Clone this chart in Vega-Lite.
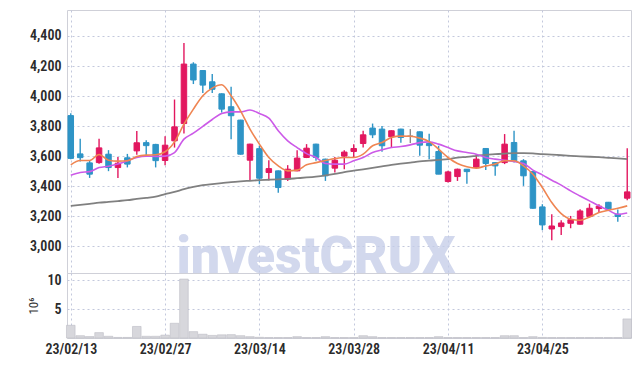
{
  "$schema": "https://vega.github.io/schema/vega-lite/v6.json",
  "background": "white",
  "padding": {"left": 27, "top": 9, "right": 4, "bottom": 2},
  "spacing": 0,
  "bounds": "flush",
  "config": {
    "view": {"stroke": "#cfd0d8", "strokeWidth": 1},
    "axis": {
      "labelFont": "Roboto Condensed, DejaVu Sans Condensed, Liberation Sans Narrow, Roboto, sans-serif",
      "labelFontSize": 14,
      "labelFontWeight": 600,
      "labelColor": "#2b2b2b",
      "gridColor": "#c3c8dc",
      "gridDash": [2, 3],
      "gridWidth": 1,
      "domain": false,
      "ticks": false,
      "labelOverlap": false
    }
  },
  "datasets": {
    "k": [
      {"d": "23/02/13", "o": 3870, "h": 3885, "l": 3580, "c": 3585, "v": 2.2, "m5": 3542, "m20": 3473, "m60": 3269},
      {"d": "23/02/14", "o": 3615, "h": 3715, "l": 3565, "c": 3590, "v": 0.4, "m5": 3571, "m20": 3491, "m60": 3275},
      {"d": "23/02/15", "o": 3555, "h": 3570, "l": 3455, "c": 3480, "v": 0.25, "m5": 3571, "m20": 3497, "m60": 3282},
      {"d": "23/02/16", "o": 3557, "h": 3715, "l": 3550, "c": 3655, "v": 0.93, "m5": 3611, "m20": 3524, "m60": 3290},
      {"d": "23/02/17", "o": 3613, "h": 3640, "l": 3500, "c": 3524, "v": 0.3, "m5": 3573, "m20": 3533, "m60": 3295},
      {"d": "23/02/20", "o": 3524, "h": 3595, "l": 3455, "c": 3553, "v": 0.1, "m5": 3567, "m20": 3547, "m60": 3301},
      {"d": "23/02/21", "o": 3589, "h": 3615, "l": 3525, "c": 3547, "v": 0.1, "m5": 3569, "m20": 3569, "m60": 3307},
      {"d": "23/02/22", "o": 3635, "h": 3767, "l": 3610, "c": 3689, "v": 2.0, "m5": 3597, "m20": 3591, "m60": 3315},
      {"d": "23/02/23", "o": 3690, "h": 3705, "l": 3600, "c": 3670, "v": 0.3, "m5": 3607, "m20": 3600, "m60": 3322},
      {"d": "23/02/24", "o": 3678, "h": 3682, "l": 3525, "c": 3570, "v": 0.3, "m5": 3609, "m20": 3598, "m60": 3330},
      {"d": "23/02/27", "o": 3571, "h": 3733, "l": 3540, "c": 3673, "v": 0.5, "m5": 3629, "m20": 3600, "m60": 3347},
      {"d": "23/02/28", "o": 3702, "h": 3977, "l": 3657, "c": 3795, "v": 2.55, "m5": 3695, "m20": 3624, "m60": 3362},
      {"d": "23/03/02", "o": 3817, "h": 4353, "l": 3750, "c": 4213, "v": 10.2, "m5": 3813, "m20": 3713, "m60": 3380},
      {"d": "23/03/03", "o": 4213, "h": 4225, "l": 4080, "c": 4107, "v": 1.1, "m5": 3913, "m20": 3753, "m60": 3395},
      {"d": "23/03/06", "o": 4170, "h": 4172, "l": 4020, "c": 4073, "v": 0.65, "m5": 4002, "m20": 3798, "m60": 3407},
      {"d": "23/03/07", "o": 4095, "h": 4147, "l": 4020, "c": 4045, "v": 0.45, "m5": 4053, "m20": 3844, "m60": 3414},
      {"d": "23/03/08", "o": 4015, "h": 4018, "l": 3890, "c": 3913, "v": 0.55, "m5": 4075, "m20": 3884, "m60": 3420},
      {"d": "23/03/09", "o": 3929, "h": 4062, "l": 3713, "c": 3869, "v": 0.58, "m5": 4002, "m20": 3895, "m60": 3427},
      {"d": "23/03/10", "o": 3840, "h": 3842, "l": 3610, "c": 3613, "v": 0.4, "m5": 3902, "m20": 3895, "m60": 3432},
      {"d": "23/03/13", "o": 3573, "h": 3682, "l": 3435, "c": 3680, "v": 0.23, "m5": 3780, "m20": 3907, "m60": 3436},
      {"d": "23/03/14", "o": 3650, "h": 3670, "l": 3413, "c": 3453, "v": 0.12, "m5": 3680, "m20": 3884, "m60": 3440},
      {"d": "23/03/15", "o": 3491, "h": 3573, "l": 3440, "c": 3517, "v": 0.08, "m5": 3591, "m20": 3853, "m60": 3443},
      {"d": "23/03/16", "o": 3502, "h": 3505, "l": 3357, "c": 3391, "v": 0.08, "m5": 3535, "m20": 3769, "m60": 3446},
      {"d": "23/03/17", "o": 3447, "h": 3540, "l": 3435, "c": 3513, "v": 0.08, "m5": 3502, "m20": 3702, "m60": 3448},
      {"d": "23/03/20", "o": 3502, "h": 3640, "l": 3500, "c": 3587, "v": 0.23, "m5": 3507, "m20": 3657, "m60": 3453},
      {"d": "23/03/21", "o": 3591, "h": 3680, "l": 3587, "c": 3653, "v": 0.08, "m5": 3542, "m20": 3617, "m60": 3458},
      {"d": "23/03/22", "o": 3680, "h": 3682, "l": 3569, "c": 3591, "v": 0.08, "m5": 3557, "m20": 3591, "m60": 3464},
      {"d": "23/03/23", "o": 3580, "h": 3583, "l": 3435, "c": 3469, "v": 0.23, "m5": 3571, "m20": 3551, "m60": 3472},
      {"d": "23/03/24", "o": 3520, "h": 3595, "l": 3491, "c": 3573, "v": 0.08, "m5": 3584, "m20": 3547, "m60": 3482},
      {"d": "23/03/27", "o": 3600, "h": 3640, "l": 3513, "c": 3627, "v": 0.08, "m5": 3591, "m20": 3547, "m60": 3494},
      {"d": "23/03/28", "o": 3631, "h": 3680, "l": 3591, "c": 3651, "v": 0.08, "m5": 3591, "m20": 3569, "m60": 3503},
      {"d": "23/03/29", "o": 3684, "h": 3769, "l": 3657, "c": 3742, "v": 0.4, "m5": 3613, "m20": 3591, "m60": 3512},
      {"d": "23/03/30", "o": 3787, "h": 3817, "l": 3720, "c": 3742, "v": 0.23, "m5": 3669, "m20": 3624, "m60": 3522},
      {"d": "23/03/31", "o": 3780, "h": 3800, "l": 3630, "c": 3669, "v": 0.08, "m5": 3691, "m20": 3642, "m60": 3532},
      {"d": "23/04/03", "o": 3729, "h": 3772, "l": 3660, "c": 3769, "v": 0.08, "m5": 3724, "m20": 3657, "m60": 3542},
      {"d": "23/04/04", "o": 3780, "h": 3782, "l": 3690, "c": 3724, "v": 0.08, "m5": 3733, "m20": 3664, "m60": 3550},
      {"d": "23/04/05", "o": 3733, "h": 3780, "l": 3687, "c": 3733, "v": 0.08, "m5": 3732, "m20": 3675, "m60": 3557},
      {"d": "23/04/06", "o": 3762, "h": 3764, "l": 3602, "c": 3673, "v": 0.08, "m5": 3720, "m20": 3690, "m60": 3565},
      {"d": "23/04/07", "o": 3684, "h": 3749, "l": 3580, "c": 3670, "v": 0.08, "m5": 3697, "m20": 3695, "m60": 3570},
      {"d": "23/04/10", "o": 3631, "h": 3669, "l": 3480, "c": 3480, "v": 0.23, "m5": 3647, "m20": 3680, "m60": 3575},
      {"d": "23/04/11", "o": 3431, "h": 3502, "l": 3424, "c": 3495, "v": 0.08, "m5": 3591, "m20": 3657, "m60": 3580},
      {"d": "23/04/12", "o": 3464, "h": 3517, "l": 3435, "c": 3513, "v": 0.08, "m5": 3551, "m20": 3635, "m60": 3590},
      {"d": "23/04/13", "o": 3513, "h": 3515, "l": 3417, "c": 3497, "v": 0.08, "m5": 3529, "m20": 3624, "m60": 3595},
      {"d": "23/04/14", "o": 3524, "h": 3613, "l": 3520, "c": 3580, "v": 0.08, "m5": 3520, "m20": 3613, "m60": 3602},
      {"d": "23/04/17", "o": 3651, "h": 3655, "l": 3507, "c": 3551, "v": 0.08, "m5": 3535, "m20": 3591, "m60": 3609},
      {"d": "23/04/18", "o": 3557, "h": 3557, "l": 3469, "c": 3535, "v": 0.08, "m5": 3547, "m20": 3580, "m60": 3613},
      {"d": "23/04/19", "o": 3557, "h": 3747, "l": 3547, "c": 3680, "v": 0.4, "m5": 3569, "m20": 3573, "m60": 3617},
      {"d": "23/04/20", "o": 3691, "h": 3769, "l": 3557, "c": 3569, "v": 0.4, "m5": 3569, "m20": 3564, "m60": 3620},
      {"d": "23/04/21", "o": 3569, "h": 3580, "l": 3402, "c": 3469, "v": 0.08, "m5": 3535, "m20": 3551, "m60": 3620},
      {"d": "23/04/24", "o": 3497, "h": 3500, "l": 3250, "c": 3253, "v": 0.23, "m5": 3480, "m20": 3507, "m60": 3618},
      {"d": "23/04/25", "o": 3262, "h": 3280, "l": 3107, "c": 3142, "v": 0.1, "m5": 3391, "m20": 3475, "m60": 3613},
      {"d": "23/04/26", "o": 3115, "h": 3213, "l": 3040, "c": 3135, "v": 0.08, "m5": 3291, "m20": 3440, "m60": 3610},
      {"d": "23/04/27", "o": 3131, "h": 3173, "l": 3075, "c": 3155, "v": 0.08, "m5": 3217, "m20": 3407, "m60": 3606},
      {"d": "23/04/28", "o": 3153, "h": 3202, "l": 3120, "c": 3177, "v": 0.08, "m5": 3180, "m20": 3369, "m60": 3602},
      {"d": "23/05/02", "o": 3147, "h": 3247, "l": 3145, "c": 3235, "v": 0.08, "m5": 3173, "m20": 3335, "m60": 3599},
      {"d": "23/05/03", "o": 3198, "h": 3284, "l": 3191, "c": 3253, "v": 0.08, "m5": 3195, "m20": 3302, "m60": 3596},
      {"d": "23/05/04", "o": 3251, "h": 3280, "l": 3224, "c": 3267, "v": 0.08, "m5": 3224, "m20": 3269, "m60": 3593},
      {"d": "23/05/08", "o": 3293, "h": 3295, "l": 3247, "c": 3249, "v": 0.08, "m5": 3240, "m20": 3240, "m60": 3589},
      {"d": "23/05/09", "o": 3213, "h": 3244, "l": 3164, "c": 3198, "v": 0.08, "m5": 3253, "m20": 3213, "m60": 3585},
      {"d": "23/05/10", "o": 3320, "h": 3653, "l": 3307, "c": 3362, "v": 3.3, "m5": 3269, "m20": 3222, "m60": 3580}
    ]
  },
  "resolve": {"scale": {"y": "independent"}},
  "vconcat": [
    {
      "width": 564,
      "height": 263,
      "encoding": {
        "x": {
          "field": "d",
          "type": "ordinal",
          "scale": {"type": "point", "padding": 0.4},
          "axis": {
            "values": ["23/02/13", "23/02/27", "23/03/14", "23/03/28", "23/04/11", "23/04/25"],
            "labels": false,
            "title": null,
            "grid": true
          }
        }
      },
      "layer": [
        {
          "data": {"values": [{"d": "23/03/22", "p": 2822, "t": "investCRUX"}]},
          "mark": {"type": "text", "font": "Roboto", "fontWeight": 900, "fontSize": 52, "color": "#c4cce8", "opacity": 0.75, "baseline": "alphabetic", "align": "center"},
          "encoding": {
            "y": {
              "field": "p",
              "type": "quantitative",
              "scale": {"domain": [2822, 4573], "nice": false, "zero": false},
              "axis": {"values": [3000, 3200, 3400, 3600, 3800, 4000, 4200, 4400], "labelExpr": "format(datum.value, ',')", "labelOverlap": false, "title": null, "labelPadding": 6}
            },
            "text": {"field": "t"}
          }
        },
        {
          "data": {"name": "k"},
          "mark": {"type": "rule", "strokeWidth": 1.4},
          "encoding": {
            "y": {
              "field": "l",
              "type": "quantitative",
              "scale": {"domain": [2822, 4573], "nice": false, "zero": false},
              "axis": {"values": [3000, 3200, 3400, 3600, 3800, 4000, 4200, 4400], "labelExpr": "format(datum.value, ',')", "labelOverlap": false, "title": null, "labelPadding": 6}
            },
            "y2": {"field": "h"},
            "color": {
              "condition": [
                {"test": "datum.c > datum.o", "value": "#e2175f"},
                {"test": "datum.c < datum.o", "value": "#2e94c6"}
              ],
              "value": "#8a8a8a"
            }
          }
        },
        {
          "data": {"name": "k"},
          "mark": {"type": "bar", "width": 5.5, "strokeWidth": 1},
          "encoding": {
            "y": {
              "field": "o",
              "type": "quantitative",
              "scale": {"domain": [2822, 4573], "nice": false, "zero": false},
              "axis": {"values": [3000, 3200, 3400, 3600, 3800, 4000, 4200, 4400], "labelExpr": "format(datum.value, ',')", "labelOverlap": false, "title": null, "labelPadding": 6}
            },
            "y2": {"field": "c"},
            "color": {
              "condition": [
                {"test": "datum.c > datum.o", "value": "#e2175f"},
                {"test": "datum.c < datum.o", "value": "#2e94c6"}
              ],
              "value": "#8a8a8a"
            },
            "stroke": {
              "condition": [
                {"test": "datum.c > datum.o", "value": "#e2175f"},
                {"test": "datum.c < datum.o", "value": "#2e94c6"}
              ],
              "value": "#8a8a8a"
            }
          }
        },
        {
          "data": {"name": "k"},
          "mark": {"type": "line", "color": "#808080", "strokeWidth": 1.8, "interpolate": "monotone"},
          "encoding": {
            "y": {
              "field": "m60",
              "type": "quantitative",
              "scale": {"domain": [2822, 4573], "nice": false, "zero": false},
              "axis": {"values": [3000, 3200, 3400, 3600, 3800, 4000, 4200, 4400], "labelExpr": "format(datum.value, ',')", "labelOverlap": false, "title": null, "labelPadding": 6}
            }
          }
        },
        {
          "data": {"name": "k"},
          "mark": {"type": "line", "color": "#cc5ae8", "strokeWidth": 1.6, "interpolate": "monotone"},
          "encoding": {
            "y": {
              "field": "m20",
              "type": "quantitative",
              "scale": {"domain": [2822, 4573], "nice": false, "zero": false},
              "axis": {"values": [3000, 3200, 3400, 3600, 3800, 4000, 4200, 4400], "labelExpr": "format(datum.value, ',')", "labelOverlap": false, "title": null, "labelPadding": 6}
            }
          }
        },
        {
          "data": {"name": "k"},
          "mark": {"type": "line", "color": "#ef8552", "strokeWidth": 1.6, "interpolate": "monotone"},
          "encoding": {
            "y": {
              "field": "m5",
              "type": "quantitative",
              "scale": {"domain": [2822, 4573], "nice": false, "zero": false},
              "axis": {"values": [3000, 3200, 3400, 3600, 3800, 4000, 4200, 4400], "labelExpr": "format(datum.value, ',')", "labelOverlap": false, "title": null, "labelPadding": 6}
            }
          }
        }
      ]
    },
    {
      "width": 564,
      "height": 65,
      "data": {"name": "k"},
      "mark": {"type": "bar", "width": 8.6, "color": "#d7d7dc", "stroke": "#bcbcc4", "strokeWidth": 0.6},
      "encoding": {
        "x": {
          "field": "d",
          "type": "ordinal",
          "scale": {"type": "point", "padding": 0.4},
          "axis": {
            "values": ["23/02/13", "23/02/27", "23/03/14", "23/03/28", "23/04/11", "23/04/25"],
            "title": null,
            "grid": true,
            "labelAngle": 0,
            "labelPadding": 4
          }
        },
        "y": {
          "field": "v",
          "type": "quantitative",
          "scale": {"domain": [0, 11.25], "nice": false},
          "axis": {
            "values": [5, 10],
            "labelExpr": "format(datum.value, 'd')",
            "labelOverlap": false,
            "title": "10⁶",
            "titleFont": "Roboto Condensed, DejaVu Sans Condensed, Roboto, sans-serif",
            "titleFontSize": 13,
            "titleFontWeight": "normal",
            "titleColor": "#333",
            "titlePadding": 6,
            "labelPadding": 6
          }
        }
      }
    }
  ]
}
